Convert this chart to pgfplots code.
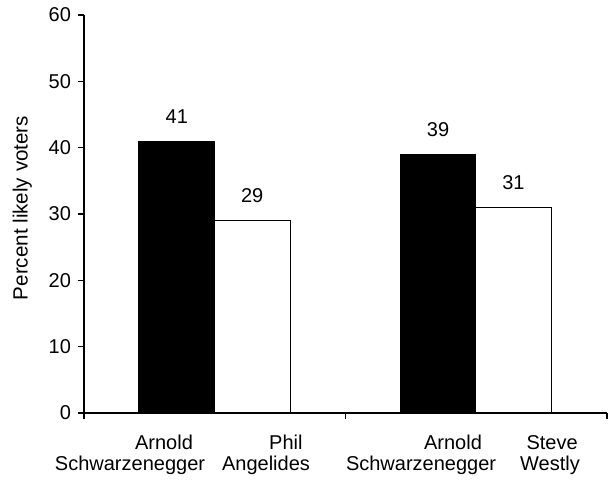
\documentclass[border=0pt]{standalone}
\usepackage{pgfplots}
\pgfplotsset{compat=1.18}
\usepackage{fontspec}
\setmainfont{Liberation Sans}
\begin{document}
\fontsize{10}{12}\selectfont
\begin{tikzpicture}
\begin{axis}[
  name=ax, scale only axis, width=261.5pt, height=199pt,
  xmin=0, xmax=2, ymin=0, ymax=60,
  axis x line*=bottom, axis y line*=left,
  axis line style={-, black, line width=0.6pt},
  every tick/.style={black, line width=0.6pt},
  tick align=outside, major tick length=3pt, minor tick length=3pt,
  ytick={0,10,...,60},
  /pgf/number format/assume math mode=true,
  yticklabel style={font=\fontsize{10}{12}\selectfont},
  xtick={0.306,0.772,1.411,1.790},
  xticklabels={Arnold,Phil,Arnold,Steve},
  xticklabel style={anchor=base, yshift=-15.5pt, font=\fontsize{10}{12}\selectfont},
  extra x ticks={0.176,0.696,1.289,1.782},
  extra x tick labels={Schwarzenegger,Angelides,Schwarzenegger,Westly},
  extra x tick style={major tick length=0pt, xticklabel style={yshift=-13.5pt}},
  x tick style={draw=none},
  minor xtick={0,1,2},
  minor x tick style={draw=black, line width=0.6pt},
  ylabel={Percent likely voters},
  ylabel style={at={(axis description cs:-0.118,0.515)}, anchor=center, font=\fontsize{10.3}{12}\selectfont},
  ybar, bar width=0.29, bar shift=0pt,
  nodes near coords,
  every node near coord/.append style={anchor=base, yshift=9pt, font=\fontsize{10}{12}\selectfont},
  clip=false,
]
\addplot[fill=black, draw=black, line width=0.5pt] coordinates {(0.355,41) (1.354,39)};
\addplot[fill=white, draw=black, line width=0.5pt] coordinates {(0.643,29) (1.642,31)};
\end{axis}
\pgfresetboundingbox
\path ([shift={(-42pt,-33.5pt)}]ax.south west) rectangle ([shift={(4pt,7.5pt)}]ax.north east);
\end{tikzpicture}
\end{document}
